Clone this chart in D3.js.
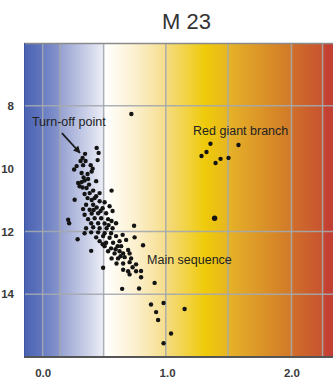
<!DOCTYPE html>
<html>
<head>
<meta charset="utf-8">
<script src="https://cdn.jsdelivr.net/npm/d3@7"></script>
<style>
  html, body { margin: 0; padding: 0; background: #fff; overflow: hidden; }
  svg { display: block; font-family: "Liberation Sans", Arial, sans-serif; }
</style>
</head>
<body>
<svg id="chart" width="333" height="381"></svg>
<script>
// colour index (B-V) and apparent magnitude V of the cluster stars
const mainSequence = [
  [0.434, 9.34], [0.450, 9.50], [0.341, 9.53], [0.321, 9.66], [0.305, 9.76], [0.345, 9.76],
  [0.442, 9.73], [0.273, 9.92], [0.325, 9.89], [0.386, 9.89], [0.402, 10.00], [0.253, 10.03],
  [0.394, 10.09], [0.313, 10.14], [0.361, 10.17], [0.329, 10.28], [0.337, 10.38], [0.365, 10.33],
  [0.430, 10.40], [0.285, 10.46], [0.313, 10.43], [0.373, 10.51], [0.321, 10.60], [0.353, 10.62],
  [0.297, 10.56], [0.406, 10.70], [0.554, 10.70], [0.378, 10.78], [0.458, 10.78], [0.337, 10.81],
  [0.430, 10.88], [0.257, 10.99], [0.361, 10.94], [0.394, 11.00], [0.418, 10.94], [0.458, 11.04],
  [0.498, 11.07], [0.349, 11.15], [0.406, 11.15], [0.325, 11.29], [0.378, 11.31], [0.434, 11.24],
  [0.482, 11.26], [0.538, 11.20], [0.410, 11.32], [0.466, 11.35], [0.337, 11.47], [0.394, 11.43],
  [0.446, 11.42], [0.510, 11.42], [0.562, 11.35], [0.365, 11.61], [0.418, 11.58], [0.470, 11.58],
  [0.526, 11.61], [0.205, 11.63], [0.213, 11.74], [0.390, 11.74], [0.446, 11.74], [0.498, 11.75],
  [0.554, 11.67], [0.590, 11.74], [0.530, 11.80], [0.349, 11.90], [0.406, 11.87], [0.458, 11.90],
  [0.514, 11.90], [0.562, 11.90], [0.337, 12.06], [0.390, 12.03], [0.446, 12.03], [0.498, 12.06],
  [0.550, 12.06], [0.430, 12.19], [0.486, 12.15], [0.538, 12.20], [0.590, 12.15], [0.281, 12.25],
  [0.458, 12.31], [0.510, 12.36], [0.566, 12.36], [0.482, 12.41], [0.498, 12.47], [0.550, 12.54],
  [0.602, 12.47], [0.586, 12.57], [0.390, 12.62], [0.526, 12.63], [0.578, 12.70], [0.618, 12.63],
  [0.735, 11.82], [0.739, 12.19], [0.807, 12.44], [0.671, 12.27], [0.643, 12.11], [0.618, 12.31],
  [0.631, 12.47], [0.687, 12.59], [0.647, 12.70], [0.699, 12.70], [0.626, 12.79], [0.554, 12.86],
  [0.606, 12.86], [0.659, 12.82], [0.711, 12.86], [0.594, 13.02], [0.647, 13.02], [0.699, 12.98],
  [0.751, 13.05], [0.723, 13.14], [0.486, 13.16], [0.647, 13.22], [0.687, 13.27], [0.751, 13.27],
  [0.791, 13.26], [0.699, 13.37], [0.791, 13.46], [0.900, 13.64], [0.639, 13.83], [0.775, 13.82],
  [0.871, 14.33], [0.972, 14.28], [1.141, 14.47], [0.912, 14.57], [0.928, 14.82], [1.032, 15.25],
  [0.972, 15.56]
];
const redGiants = [
  [1.349, 9.21], [1.574, 9.25], [1.317, 9.47], [1.277, 9.60], [1.430, 9.69], [1.494, 9.66], [1.390, 9.82]
];
const brightStars = [[0.713, 8.26]];
const largeStars = [[1.382, 11.58]];

const xTicks = [0, 1, 2];
const xTickLabels = ["0.0", "1.0", "2.0"];
const yTicks = [8, 10, 12, 14];
const gridBV = [0, 0.14, 0.49, 0.99, 1.49, 2.0, 2.25];
const gridMag = [8, 12, 14];

const labels = [
  { text: "Turn-off point", bv: -0.086, mag: 8.64 },
  { text: "Red giant branch", bv: 1.209, mag: 8.92 },
  { text: "Main sequence", bv: 0.839, mag: 13.05 }
];
const arrowFrom = [0.155, 8.87];
const arrowTo = [0.30, 9.50];

// background colour ramp along B-V
const ramp = [
  [-0.15, "#4862b2"], [-0.005, "#6276be"], [0.01, "#6a7ec4"], [0.13, "#8694ca"],
  [0.147, "#96a2d2"], [0.485, "#ecedf6"], [0.501, "#ffffff"], [0.742, "#fcf0cf"],
  [0.983, "#f6de8c"], [1.008, "#f4da7c"], [1.305, "#efcb0a"], [1.49, "#e7b620"],
  [1.514, "#e5b028"], [1.988, "#d27a28"], [2.02, "#cf6c2a"], [2.245, "#c85430"],
  [2.27, "#c64232"], [2.35, "#c03c32"]
];

const svg = d3.select("#chart");
const x = d3.scaleLinear().domain([-0.15, 2.35]).range([24, 335]);
const y = d3.scaleLinear().domain([6, 16]).range([43, 357]);
const [x0, x1] = x.range();
const [y0, y1] = y.range();

const defs = svg.append("defs");
const grad = defs.append("linearGradient")
  .attr("id", "bvRamp")
  .attr("gradientUnits", "userSpaceOnUse")
  .attr("x1", x0).attr("x2", x1).attr("y1", 0).attr("y2", 0);
grad.selectAll("stop").data(ramp).join("stop")
  .attr("offset", d => (x(d[0]) - x0) / (x1 - x0))
  .attr("stop-color", d => d[1]);

defs.append("marker")
  .attr("id", "arrowHead")
  .attr("viewBox", "0 0 10 10")
  .attr("refX", 9).attr("refY", 5)
  .attr("markerWidth", 4.5).attr("markerHeight", 4.5)
  .attr("orient", "auto")
  .append("path").attr("d", "M0,0L10,5L0,10z").attr("fill", "#1a1a1a");

// title
svg.append("text")
  .attr("x", 186.5).attr("y", 29)
  .attr("text-anchor", "middle")
  .attr("font-size", 22)
  .attr("fill", "#333")
  .text("M 23");

// plot background
svg.append("rect")
  .attr("x", x0).attr("y", y0)
  .attr("width", x1 - x0).attr("height", y1 - y0)
  .attr("fill", "url(#bvRamp)");

const grid = svg.append("g")
  .attr("stroke", "#a4a8ae")
  .attr("stroke-width", 1.5)
  .attr("stroke-opacity", 0.9);
grid.selectAll("line.v").data(gridBV).join("line")
  .attr("class", "v")
  .attr("x1", d => x(d)).attr("x2", d => x(d))
  .attr("y1", y0).attr("y2", y1);
grid.selectAll("line.h").data(gridMag).join("line")
  .attr("class", "h")
  .attr("x1", x0).attr("x2", x1)
  .attr("y1", d => y(d)).attr("y2", d => y(d));

// frame
svg.append("line").attr("x1", x0).attr("x2", x1).attr("y1", y0 + 0.5).attr("y2", y0 + 0.5)
  .attr("stroke", "#8a8a8a").attr("stroke-width", 1.6);
svg.append("line").attr("x1", x0).attr("x2", x1).attr("y1", y1).attr("y2", y1)
  .attr("stroke", "#555").attr("stroke-width", 1.8);
svg.append("line").attr("x1", x0 + 0.5).attr("x2", x0 + 0.5).attr("y1", y0).attr("y2", y1)
  .attr("stroke", "#3e56a4").attr("stroke-width", 1);

// axes (labels only)
const xAxis = d3.axisBottom(x).tickValues(xTicks).tickSize(0)
  .tickFormat((d, i) => xTickLabels[i]);
svg.append("g")
  .attr("transform", `translate(0,${y1 + 9})`)
  .call(xAxis)
  .call(g => g.select(".domain").remove())
  .selectAll("text")
  .attr("font-family", "Liberation Sans, Arial, sans-serif")
  .attr("font-size", 11.5).attr("font-weight", "bold").attr("fill", "#3a3a3a");

const yAxis = d3.axisLeft(y).tickValues(yTicks).tickSize(0).tickFormat(d3.format("d"));
svg.append("g")
  .attr("transform", `translate(${x0 - 7},0)`)
  .call(yAxis)
  .call(g => g.select(".domain").remove())
  .selectAll("text")
  .attr("font-family", "Liberation Sans, Arial, sans-serif")
  .attr("font-size", 11.5).attr("font-weight", "bold").attr("fill", "#3a3a3a");

// stars
const stars = svg.append("g").attr("fill", "#141414");
stars.selectAll("circle.ms").data(mainSequence.concat(redGiants, brightStars)).join("circle")
  .attr("class", "ms")
  .attr("cx", d => x(d[0])).attr("cy", d => y(d[1]))
  .attr("r", 2.2);
stars.selectAll("circle.big").data(largeStars).join("circle")
  .attr("class", "big")
  .attr("cx", d => x(d[0])).attr("cy", d => y(d[1]))
  .attr("r", 2.7);

// annotations
svg.append("line")
  .attr("x1", x(arrowFrom[0])).attr("y1", y(arrowFrom[1]))
  .attr("x2", x(arrowTo[0])).attr("y2", y(arrowTo[1]))
  .attr("stroke", "#1a1a1a").attr("stroke-width", 1.6)
  .attr("marker-end", "url(#arrowHead)");

svg.append("g").selectAll("text").data(labels).join("text")
  .attr("x", d => x(d.bv)).attr("y", d => y(d.mag))
  .attr("font-size", 12.5)
  .attr("fill", "#222")
  .text(d => d.text);
</script>
</body>
</html>
